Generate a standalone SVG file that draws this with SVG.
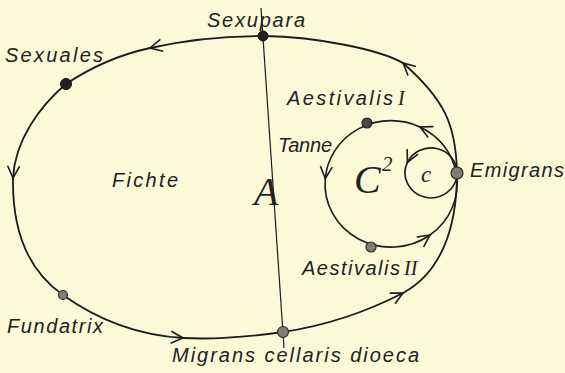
<svg xmlns="http://www.w3.org/2000/svg" width="565" height="373" viewBox="0 0 565 373">
  <style>
    .bg { fill: #fcf9d8; }
    .loop { fill: none; stroke: #1c1c1c; stroke-width: 1.8; stroke-linecap: round; }
    .inner { fill: none; stroke: #1c1c1c; stroke-width: 1.6; stroke-linecap: round; }
    .axis { fill: none; stroke: #1c1c1c; stroke-width: 1.2; }
    .lbl { font-family: "Liberation Sans", Arial, sans-serif; font-style: italic; font-size: 20px; fill: #222; }
    .ser { font-family: "Liberation Serif", "Times New Roman", serif; font-style: italic; fill: #222; }
    .dot-black { fill: #202020; stroke: #111; stroke-width: 1; }
    .dot-grey { fill: #7d7d74; stroke: #2a2a2a; stroke-width: 1.2; }
    .dot-dark { fill: #4a4a44; stroke: #222; stroke-width: 1.2; }
  </style>
  <defs>
    <marker id="chev" markerUnits="userSpaceOnUse" orient="auto" overflow="visible" refX="0" refY="0" markerWidth="14" markerHeight="14">
      <path d="M-12,-6 L0,0 L-12,6" fill="none" stroke="#1c1c1c" stroke-width="1.6" stroke-linejoin="miter"/>
    </marker>
  </defs>
  <rect class="bg" x="0" y="0" width="565" height="373"/>

  <g id="connectors">
    <!-- axis line A -->
    <path class="axis" d="M261,8 L284,348"/>
    <!-- outer loop -->
    <path class="loop" d="M263,36 C225,36 185,40 150,48" marker-end="url(#chev)"/>
    <path class="loop" d="M150,48 C118,55 90,68 66,84"/>
    <path class="loop" d="M66,84 C40,106 15,140 13,178" marker-end="url(#chev)"/>
    <path class="loop" d="M13,178 C12,235 30,272 63,295"/>
    <path class="loop" d="M63,295 C95,318 135,335 183,338" marker-end="url(#chev)"/>
    <path class="loop" d="M183,338 C220,340 255,336 283,332"/>
    <path class="loop" d="M283,332 C330,325 370,310 403,293" marker-end="url(#chev)"/>
    <path class="loop" d="M403,293 C440,273 457,230 457,173"/>
    <path class="loop" d="M457,173 C456,125 445,100 403,63" marker-end="url(#chev)"/>
    <path class="loop" d="M403,63 C380,50 320,37 263,36"/>
    <!-- inner loop C2 -->
    <path class="inner" d="M456,173 A66,63 0 0 0 420,127" marker-end="url(#chev)"/>
    <path class="inner" d="M420,127 A66,63 0 0 0 325.3,178.5" marker-end="url(#chev)"/>
    <path class="inner" d="M325.3,178.5 A66,63 0 0 0 430,235" marker-end="url(#chev)"/>
    <path class="inner" d="M430,235 A66,63 0 0 0 456,173"/>
    <!-- small loop c -->
    <path class="inner" d="M457,173 A26,25 0 0 0 407.4,162.4" marker-end="url(#chev)"/>
    <path class="inner" d="M407.4,162.4 A26,25 0 1 0 457,173"/>
  </g>

  <g id="sexupara">
    <circle class="dot-black" cx="263" cy="36" r="5"/>
    <text class="lbl" x="207" y="27" textLength="98" lengthAdjust="spacing">Sexupara</text>
  </g>
  <g id="sexuales">
    <circle class="dot-black" cx="66" cy="84" r="5.5"/>
    <text class="lbl" x="5" y="62" textLength="98" lengthAdjust="spacing">Sexuales</text>
  </g>
  <g id="fundatrix">
    <circle class="dot-grey" cx="63" cy="295" r="4.5"/>
    <text class="lbl" x="7" y="333" textLength="96" lengthAdjust="spacing">Fundatrix</text>
  </g>
  <g id="migrans">
    <circle class="dot-grey" cx="283" cy="332" r="5.5"/>
    <text class="lbl" x="172" y="362" textLength="247" lengthAdjust="spacing">Migrans cellaris dioeca</text>
  </g>
  <g id="emigrans">
    <circle class="dot-grey" cx="457" cy="173" r="6"/>
    <text class="lbl" x="470" y="177" textLength="94" lengthAdjust="spacing">Emigrans</text>
  </g>
  <g id="aestivalis1">
    <circle class="dot-dark" cx="367" cy="123" r="5"/>
    <text class="lbl" x="287" y="105" textLength="106" lengthAdjust="spacing">Aestivalis</text>
    <text class="ser" x="398" y="105" font-size="20">I</text>
  </g>
  <g id="aestivalis2">
    <circle class="dot-grey" cx="371" cy="247" r="5"/>
    <text class="lbl" x="302" y="275" textLength="98" lengthAdjust="spacing">Aestivalis</text>
    <text class="ser" x="404" y="275" font-size="20">II</text>
  </g>
  <g id="fichte">
    <text class="lbl" x="112" y="187" textLength="66" lengthAdjust="spacing">Fichte</text>
  </g>
  <g id="tanne">
    <text class="lbl" x="278" y="152" font-size="19" textLength="54" lengthAdjust="spacing">Tanne</text>
  </g>
  <g id="label-A">
    <text class="ser" x="254" y="205" font-size="40">A</text>
  </g>
  <g id="label-C2">
    <text class="ser" x="354" y="193" font-size="40">C</text>
    <text class="ser" x="382" y="171" font-size="21" font-style="normal">2</text>
  </g>
  <g id="label-c">
    <text class="ser" x="421" y="182" font-size="23">c</text>
  </g>
</svg>
